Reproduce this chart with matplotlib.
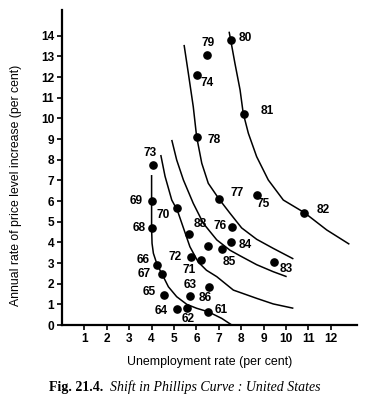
import matplotlib.pyplot as plt

# years and the observations (unemployment %, inflation %)
years = ['61', '62', '63', '64', '65', '66', '67', '68', '69', '70',
         '71', '72', '73', '74', '75', '76', '77', '78', '79', '80',
         '81', '82', '83', '84', '85', '86', '', '88']
unemp = [6.53, 5.59, 5.73, 5.15, 4.55, 4.25, 4.45, 4.00, 4.00, 5.15,
         6.21, 5.76, 4.08, 6.04, 8.71, 7.60, 7.01, 6.01, 6.47, 7.54,
         8.11, 10.82, 9.45, 7.53, 7.16, 6.56, 6.50, 5.67]
infl = [0.62, 0.81, 1.42, 0.76, 1.44, 2.91, 2.47, 4.68, 6.02, 5.65,
        3.15, 3.27, 7.75, 12.11, 6.30, 4.75, 6.09, 9.09, 13.07, 13.79,
        10.23, 5.44, 3.07, 4.00, 3.68, 1.85, 3.84, 4.41]

# phillips curves, points
curve1_x = [4.00, 4.00, 4.02, 4.08, 4.25, 4.45, 4.75, 5.12, 5.57, 6.01, 6.53, 7.13, 7.58]
curve1_y = [7.26, 4.70, 3.95, 3.47, 2.91, 2.50, 1.85, 1.37, 1.00, 0.81, 0.64, 0.32, 0.00]

curve2_x = [4.41, 4.60, 4.90, 5.15, 5.42, 5.71, 6.08, 6.45, 6.91, 7.65, 8.69, 9.43, 10.33]
curve2_y = [8.23, 7.20, 6.05, 5.55, 4.70, 3.79, 3.05, 2.65, 2.34, 1.69, 1.29, 1.02, 0.81]

curve3_x = [4.90, 5.12, 5.42, 5.86, 6.31, 6.91, 7.50, 7.95, 8.69, 9.43, 10.03]
curve3_y = [8.96, 7.99, 7.02, 5.89, 4.92, 4.12, 3.62, 3.35, 2.92, 2.58, 2.34]

curve4_x = [5.45, 5.64, 5.86, 6.01, 6.24, 6.53, 7.01, 7.50, 8.02, 8.69, 9.43, 10.33]
curve4_y = [13.56, 12.19, 10.57, 9.12, 7.83, 6.86, 6.10, 5.41, 4.70, 4.15, 3.71, 3.20]

curve5_x = [7.46, 7.53, 7.72, 7.95, 8.09, 8.32, 8.69, 9.21, 9.88, 10.82, 11.82, 12.83]
curve5_y = [14.20, 13.80, 12.67, 11.38, 10.25, 9.28, 8.15, 7.02, 6.05, 5.44, 4.60, 3.91]

x_ticks = list(range(1, 13))
y_ticks = list(range(0, 15))

# label offsets in pixels (right, up)
offsets = {
    '61': (13, 2), '62': (1, -11), '63': (0, 11), '64': (-16, -2),
    '65': (-15, 3), '66': (-14, 5), '67': (-17, 0), '68': (-12, 0),
    '69': (-15, 0), '70': (-14, -7), '71': (-12, -10), '72': (-16, 0),
    '73': (-3, 12), '74': (10, -8), '75': (6, -9), '76': (-12, 1),
    '77': (18, 6), '78': (18, -3), '79': (1, 12), '80': (14, 2),
    '81': (24, 3), '82': (19, 3), '83': (13, -7), '84': (15, -3),
    '85': (7, -13), '86': (-4, -11), '': (0, 0), '88': (11, 10),
}

plt.rcParams['font.family'] = ['Liberation Sans', 'DejaVu Sans']

fig = plt.figure(figsize=(3.65, 4.04), dpi=100)
ax = fig.add_axes([62 / 365, 79 / 404, 295 / 365, 315 / 404])

for cx, cy in [(curve1_x, curve1_y), (curve2_x, curve2_y), (curve3_x, curve3_y),
               (curve4_x, curve4_y), (curve5_x, curve5_y)]:
    ax.plot(cx, cy, color='black', linewidth=1.1, solid_capstyle='butt',
            solid_joinstyle='round')

ax.plot(unemp, infl, 'o', color='black', markersize=5.2)

for yr, x, y in zip(years, unemp, infl):
    if yr == '':
        continue
    dx, dy = offsets[yr]
    ax.annotate(yr, (x, y), xytext=(dx, dy), textcoords='offset pixels',
                ha='center', va='center', fontsize=8.6, fontweight='bold')

ax.set_xlim(0, 13.17)
ax.set_ylim(0, 15.25)
ax.set_xticks(x_ticks)
ax.set_yticks(y_ticks)
ax.tick_params(axis='both', direction='out', length=3.5, width=1.2,
               labelsize=8.6, pad=2)
for lab in ax.get_xticklabels() + ax.get_yticklabels():
    lab.set_fontweight('bold')

ax.spines['top'].set_visible(False)
ax.spines['right'].set_visible(False)
ax.spines['left'].set_linewidth(1.6)
ax.spines['bottom'].set_linewidth(1.6)

ax.set_xlabel('Unemployment rate (per cent)', fontsize=8.9)
ax.xaxis.set_label_coords(0.5, -0.10)
ax.set_ylabel('Annual rate of price level increase (per cent)', fontsize=8.8)
ax.yaxis.set_label_coords(-0.135, 0.444)

# caption under the chart
fig.text(0.135, 0.042, 'Fig. 21.4.', family='Liberation Serif', fontweight='bold',
         fontsize=10, ha='left', va='center')
fig.text(0.302, 0.042, 'Shift in Phillips Curve : United States', family='Liberation Serif',
         style='italic', fontsize=10, ha='left', va='center')

fig.savefig('out.png', dpi=100)
